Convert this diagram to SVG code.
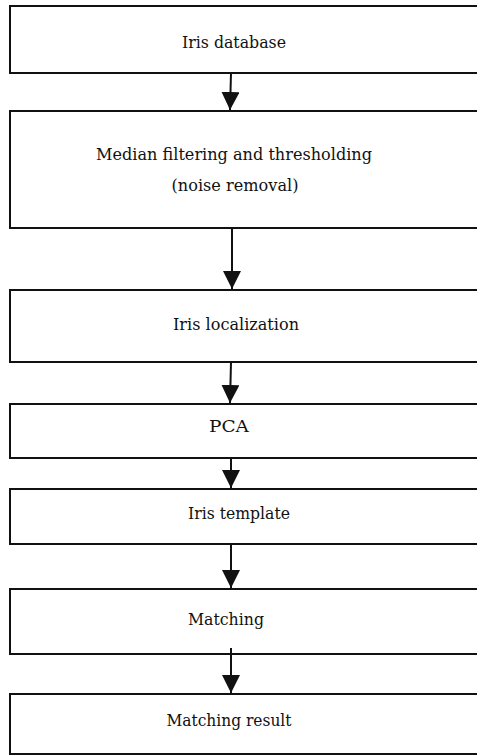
<svg xmlns="http://www.w3.org/2000/svg" width="477" height="755" viewBox="0 0 477 755">
<style>
.box{fill:#fff;stroke:#111;stroke-width:2}
.lbl{font-family:'DejaVu Serif',serif;font-size:17px;fill:#111;text-anchor:middle}
.conn line{stroke:#111;stroke-width:2}
</style>
<defs>
<marker id="ah" markerWidth="9" markerHeight="9" refX="9" refY="4.5" orient="auto" markerUnits="strokeWidth">
<path d="M0,0 L9,4.5 L0,9 Z" fill="#111"/>
</marker>
</defs>
<rect width="477" height="755" fill="#fff"/>
<g id="n1"><rect class="box" x="10" y="6" width="480" height="67"/><text class="lbl" x="234" y="48" textLength="104" lengthAdjust="spacingAndGlyphs">Iris database</text></g>
<g id="n2"><rect class="box" x="10" y="111" width="480" height="117"/><text class="lbl" x="234" y="160" textLength="276" lengthAdjust="spacingAndGlyphs">Median filtering and thresholding</text><text class="lbl" x="235" y="191" textLength="127" lengthAdjust="spacingAndGlyphs">(noise removal)</text></g>
<g id="n3"><rect class="box" x="10" y="290" width="480" height="72"/><text class="lbl" x="236" y="330" textLength="126" lengthAdjust="spacingAndGlyphs">Iris localization</text></g>
<g id="n4"><rect class="box" x="10" y="404" width="480" height="54"/><text class="lbl" x="229" y="432" textLength="40" lengthAdjust="spacingAndGlyphs">PCA</text></g>
<g id="n5"><rect class="box" x="10" y="489" width="480" height="55"/><text class="lbl" x="239" y="519" textLength="102" lengthAdjust="spacingAndGlyphs">Iris template</text></g>
<g id="n6"><rect class="box" x="10" y="589" width="480" height="65"/><text class="lbl" x="226" y="625" textLength="76" lengthAdjust="spacingAndGlyphs">Matching</text></g>
<g id="n7"><rect class="box" x="10" y="694" width="480" height="60"/><text class="lbl" x="229" y="726" textLength="125" lengthAdjust="spacingAndGlyphs">Matching result</text></g>
<g id="connectors" class="conn">
<line x1="231" y1="73" x2="230" y2="110" marker-end="url(#ah)"/>
<line x1="232" y1="228" x2="232" y2="289" marker-end="url(#ah)"/>
<line x1="231" y1="362" x2="230" y2="403" marker-end="url(#ah)"/>
<line x1="231" y1="458" x2="231" y2="488" marker-end="url(#ah)"/>
<line x1="231" y1="544" x2="231" y2="588" marker-end="url(#ah)"/>
<line x1="231" y1="648" x2="231" y2="693" marker-end="url(#ah)"/>
</g>
</svg>
